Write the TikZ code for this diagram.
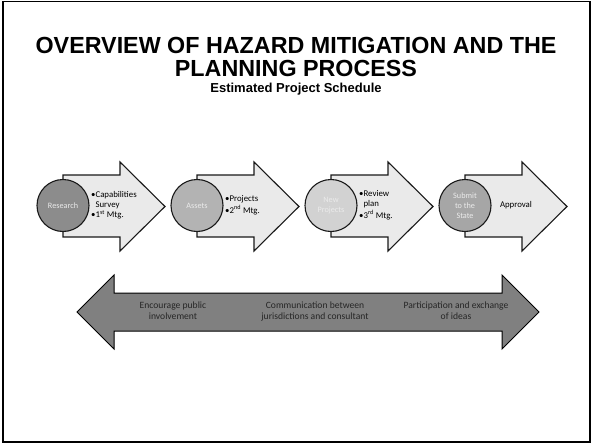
\documentclass[tikz,border=0pt]{standalone}
\usepackage{fontspec}
\setmainfont{Liberation Sans}
\newfontfamily\carl{Carlito}
\definecolor{arrowfill}{HTML}{EAEAEA}
\definecolor{bigfill}{HTML}{808080}
\definecolor{cA}{HTML}{8C8C8C}
\definecolor{cB}{HTML}{B3B3B3}
\definecolor{cC}{HTML}{D2D2D2}
\definecolor{cD}{HTML}{A6A6A6}
\definecolor{darktext}{HTML}{262626}
\begin{document}
\begin{tikzpicture}[x=1pt,y=-1pt,
  framebox/.style={draw=black,line width=1.6pt},
  titlefont/.style={font=\bfseries\fontsize{23.3}{26}\selectfont},
  subfont/.style={font=\bfseries\fontsize{13}{15}\selectfont},
  stepshape/.style={draw=black!90,line width=1.1pt,fill=arrowfill,line join=miter},
  stepcircle/.style={circle,draw=black!90,line width=1.1pt,minimum size=52pt,inner sep=0pt,
     text=white!92!black,align=center,font=\carl\fontsize{8.2}{10}\selectfont},
  steptext/.style={anchor=west,inner sep=0pt,align=left,font=\carl\fontsize{8.8}{10}\selectfont,text=black},
  bigarrow/.style={draw=black,line width=1pt,fill=bigfill,line join=miter},
  bigtext/.style={align=center,inner sep=0pt,font=\carl\fontsize{9.6}{11}\selectfont,text=darktext}
]
\useasboundingbox (0,0) rectangle (592,444);
\draw[framebox] (3,1.5) rectangle (590,442);

% Title
\node[titlefont] (t1) at (296,45) {OVERVIEW OF HAZARD MITIGATION AND THE};
\node[titlefont] (t2) at (296,68) {PLANNING PROCESS};
\node[subfont] (t3) at (296,89) {Estimated Project Schedule};

% Step arrows
\foreach \x in {63,197,331,465}{
  \draw[stepshape] (\x,175) -- (\x+57,175) -- (\x+57,162) -- (\x+102,206.5)
     -- (\x+57,251) -- (\x+57,237) -- (\x,237) -- cycle;
}

\node[stepcircle,fill=cA] (c1) at (63,205.5) {Research};
\node[stepcircle,fill=cB] (c2) at (197,205.5) {Assets};
\node[stepcircle,fill=cC] (c3) at (331,205.5) {New\\Projects};
\node[stepcircle,fill=cD] (c4) at (465,205.5) {Submit\\to the\\State};

\node[steptext] (s1) at (91,205.5) {\begin{tabular}{@{}l@{}l@{}}\textbullet&Capabilities\\&Survey\\\textbullet&1\textsuperscript{st} Mtg.\end{tabular}};
\node[steptext] (s2) at (225,205.5) {\begin{tabular}{@{}l@{}l@{}}\textbullet&Projects\\\textbullet&2\textsuperscript{nd} Mtg.\end{tabular}};
\node[steptext] (s3) at (359,205.5) {\begin{tabular}{@{}l@{}l@{}}\textbullet&Review\\&plan\\\textbullet&3\textsuperscript{rd} Mtg.\end{tabular}};
\node[steptext,anchor=center] (s4) at (516,205.5) {Approval};

% Big double arrow
\draw[bigarrow] (77,312) -- (114,275) -- (114,293) -- (502,293) -- (502,275)
   -- (539,312) -- (502,349) -- (502,331) -- (114,331) -- (114,349) -- cycle;
\node[bigtext] (b1) at (173,311) {Encourage public\\involvement};
\node[bigtext] (b2) at (315,311) {Communication between\\jurisdictions and consultant};
\node[bigtext] (b3) at (456,311) {Participation and exchange\\of ideas};
\end{tikzpicture}
\end{document}
